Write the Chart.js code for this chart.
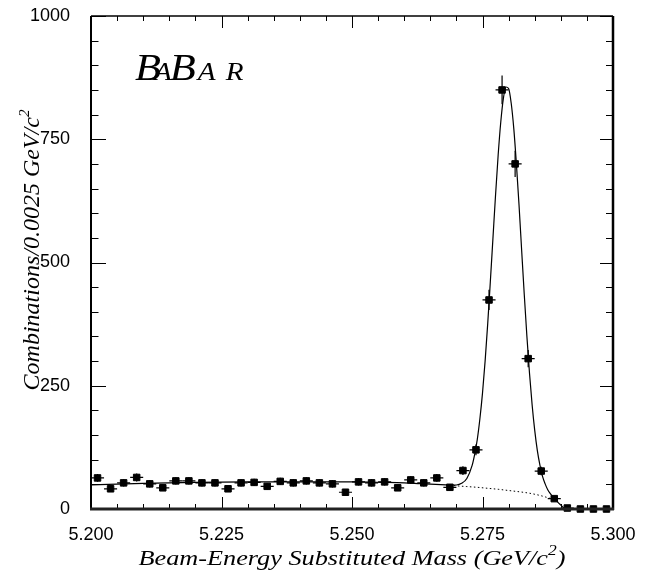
<!DOCTYPE html>
<html>
<head>
<meta charset="utf-8">
<script src="https://cdn.jsdelivr.net/npm/chart.js@4"></script>
<style>
  html, body { margin: 0; padding: 0; background: #fff; }
  #wrap { width: 648px; height: 579px; }
</style>
</head>
<body>
<div id="wrap"><canvas id="mesChart" width="648" height="579"></canvas></div>
<script>
// Beam-energy substituted mass, 0.0025 GeV/c^2 bins
var binCenters = [
  5.20125, 5.20375, 5.20625, 5.20875, 5.21125, 5.21375, 5.21625, 5.21875, 5.22125, 5.22375,
  5.22625, 5.22875, 5.23125, 5.23375, 5.23625, 5.23875, 5.24125, 5.24375, 5.24625, 5.24875,
  5.25125, 5.25375, 5.25625, 5.25875, 5.26125, 5.26375, 5.26625, 5.26875, 5.27125, 5.27375,
  5.27625, 5.27875, 5.28125, 5.28375, 5.28625, 5.28875, 5.29125, 5.29375, 5.29625, 5.29875
];
var binCounts = [
  63, 41, 53, 64, 51, 43, 57, 57, 53, 53,
  41, 53, 54, 46, 56, 53, 57, 53, 51, 34,
  55, 53, 55, 43, 59, 53, 63, 44, 78, 120,
  424, 850, 700, 305, 77, 21, 2, 0, 0, 0
];
var binHalfWidth = 0.00125;

// fitted curve (signal + background)
var fitMass = [
  5.200, 5.210, 5.220, 5.230, 5.240, 5.250, 5.256, 5.260, 5.263, 5.266,
  5.268, 5.269, 5.270, 5.271, 5.272, 5.273, 5.2735, 5.274, 5.2745, 5.275,
  5.2755, 5.276, 5.2765, 5.277, 5.2775, 5.278, 5.2785, 5.279, 5.2795, 5.280,
  5.2805, 5.281, 5.2815, 5.282, 5.2825, 5.283, 5.2835, 5.284, 5.2845, 5.285,
  5.2855, 5.286, 5.2865, 5.287, 5.2875, 5.288, 5.2885, 5.289, 5.2895, 5.290,
  5.2905, 5.291, 5.300
];
var fitValues = [
  49, 52, 54, 55, 55, 55, 54, 53, 51.5, 50,
  49, 48.5, 48.7, 52, 62, 88, 111, 141, 183, 235,
  300, 376, 461, 549, 637, 718, 785, 833, 856, 853,
  823, 771, 699, 616, 525, 435, 351, 276, 212, 160,
  119, 89, 66, 51, 39, 31, 24, 19, 13, 8,
  3, 0, 0
];

// background component (dotted)
var bkgMass = [5.268, 5.270, 5.272, 5.274, 5.276, 5.278, 5.280, 5.282, 5.284, 5.286, 5.2875, 5.289];
var bkgValues = [49, 47, 45.5, 44, 42, 40, 37.5, 35, 32, 27.5, 23, 18];

var xTicks = [5.200, 5.225, 5.250, 5.275, 5.300];
var yTicks = [0, 250, 500, 750, 1000];

function toXY(xs, ys) {
    return xs.map(function (v, i) { return { x: v, y: ys[i] }; });
}

// text stretched horizontally, like the original print
function wideText(ctx, str, x, y, font, sx) {
    ctx.save();
    ctx.font = font;
    ctx.translate(x, y);
    ctx.scale(sx, 1);
    ctx.fillText(str, 0, 0);
    ctx.restore();
    return ctx.measureText(str).width * sx;
}

// error bars: half bin width horizontally, sqrt(N) vertically
var errorBars = {
    id: 'errorBars',
    afterDatasetsDraw: function (chart) {
        var ctx = chart.ctx, x = chart.scales.x, y = chart.scales.y;
        ctx.save();
        ctx.strokeStyle = '#000';
        ctx.lineWidth = 1.2;
        binCenters.forEach(function (m, i) {
            var n = binCounts[i];
            var px = x.getPixelForValue(m);
            var py = y.getPixelForValue(n);
            var x0 = x.getPixelForValue(m - binHalfWidth);
            var x1 = x.getPixelForValue(m + binHalfWidth);
            var e = Math.sqrt(n);
            ctx.beginPath();
            ctx.moveTo(x0, py); ctx.lineTo(x1, py);
            ctx.moveTo(px, y.getPixelForValue(n - e)); ctx.lineTo(px, y.getPixelForValue(n + e));
            ctx.stroke();
        });
        ctx.restore();
    }
};

// frame, inward ticks, axis titles and the BaBar logo
var frameDecor = {
    id: 'frameDecor',
    afterDraw: function (chart) {
        var ctx = chart.ctx, a = chart.chartArea, x = chart.scales.x, y = chart.scales.y;
        ctx.save();
        ctx.strokeStyle = '#000';
        ctx.lineWidth = 1;
        var i, p, major;
        for (i = 0; i <= 20; i++) {
            p = Math.round(x.getPixelForValue(5.2 + i * 0.005)) + 0.5;
            major = i % 5 === 0;
            ctx.beginPath();
            ctx.moveTo(p, a.bottom); ctx.lineTo(p, a.bottom - (major ? 12 : 5));
            ctx.moveTo(p, a.top); ctx.lineTo(p, a.top + (major ? 12 : 5));
            ctx.stroke();
        }
        for (i = 0; i <= 20; i++) {
            p = Math.round(y.getPixelForValue(i * 50)) + 0.5;
            major = i % 5 === 0;
            ctx.beginPath();
            ctx.moveTo(a.left, p); ctx.lineTo(a.left + (major ? 15 : 7.5), p);
            ctx.moveTo(a.right, p); ctx.lineTo(a.right - (major ? 13 : 7), p);
            ctx.stroke();
        }

        // frame
        ctx.lineWidth = 1.5;
        ctx.beginPath();
        ctx.moveTo(a.left, a.top); ctx.lineTo(a.right, a.top);
        ctx.stroke();
        ctx.lineWidth = 2;
        ctx.beginPath();
        ctx.moveTo(a.left, a.top); ctx.lineTo(a.left, a.bottom);
        ctx.stroke();
        ctx.lineWidth = 2.5;
        ctx.beginPath();
        ctx.moveTo(a.right, a.top); ctx.lineTo(a.right, a.bottom + 1);
        ctx.stroke();
        ctx.lineWidth = 3;
        ctx.strokeStyle = '#222';
        ctx.beginPath();
        ctx.moveTo(a.left - 1, a.bottom); ctx.lineTo(a.right + 1, a.bottom);
        ctx.stroke();

        ctx.fillStyle = '#000';
        ctx.textAlign = 'left';
        ctx.textBaseline = 'alphabetic';

        // x title with superscript
        var big = 'italic 21px "Liberation Serif"', small = 'italic 14px "Liberation Serif"';
        var sxT = 1.25;
        var t1 = 'Beam-Energy Substituted Mass (GeV/c', t3 = ')';
        ctx.font = big;
        var w1 = ctx.measureText(t1).width * sxT, w3 = ctx.measureText(t3).width * sxT;
        ctx.font = small;
        var w2 = ctx.measureText('2').width * sxT;
        var sx = (a.left + a.right) / 2 - (w1 + w2 + w3) / 2, by = 565;
        wideText(ctx, t1, sx, by, big, sxT);
        wideText(ctx, '2', sx + w1, by - 10, small, sxT);
        wideText(ctx, t3, sx + w1 + w2, by, big, sxT);

        // y title, rotated
        var yBig = 'italic 24px "Liberation Serif"', ySmall = 'italic 15px "Liberation Serif"';
        var y1 = 'Combinations/0.0025 GeV/c';
        ctx.save();
        ctx.translate(39, 250);
        ctx.rotate(-Math.PI / 2);
        ctx.font = yBig;
        var wy1 = ctx.measureText(y1).width;
        ctx.font = ySmall;
        var wy2 = ctx.measureText('2').width;
        var sy = -(wy1 + wy2) / 2;
        ctx.font = yBig; ctx.fillText(y1, sy, 0);
        ctx.font = ySmall; ctx.fillText('2', sy + wy1, -10);
        ctx.restore();

        // BaBar logo
        var capF = 'italic 38px "Liberation Serif"', scF = 'italic 26px "Liberation Serif"';
        var lx = 135, ly = 80, ls = 1.12;
        wideText(ctx, 'B', lx, ly, capF, ls);
        wideText(ctx, 'A', lx + 17 * ls, ly, scF, ls);
        wideText(ctx, 'B', lx + 31 * ls, ly, capF, ls);
        wideText(ctx, 'A', lx + 56 * ls, ly, scF, ls);
        wideText(ctx, 'R', lx + 81 * ls, ly, scF, ls);

        ctx.restore();
    }
};

var tickFont = { family: '"Liberation Sans", Arial, sans-serif', size: 18 };

new Chart(document.getElementById('mesChart'), {
    type: 'scatter',
    data: {
        datasets: [
            {
                label: 'Data',
                data: toXY(binCenters, binCounts),
                showLine: false,
                pointStyle: 'rect',
                pointRadius: 4.6,
                pointBorderWidth: 1,
                backgroundColor: '#000',
                borderColor: '#000',
                clip: false,
                order: 0
            },
            {
                label: 'Fit',
                data: toXY(fitMass, fitValues),
                showLine: true,
                pointRadius: 0,
                borderColor: '#000',
                borderWidth: 1.2,
                cubicInterpolationMode: 'monotone',
                fill: false,
                order: 1
            },
            {
                label: 'Background',
                data: toXY(bkgMass, bkgValues),
                showLine: true,
                pointRadius: 0,
                borderColor: '#000',
                borderWidth: 1,
                borderDash: [1.5, 2.5],
                cubicInterpolationMode: 'monotone',
                fill: false,
                order: 2
            }
        ]
    },
    options: {
        responsive: false,
        animation: false,
        layout: { padding: { top: 16, right: 35, left: 0, bottom: 0 } },
        plugins: {
            legend: { display: false },
            tooltip: { enabled: false }
        },
        scales: {
            x: {
                type: 'linear',
                min: 5.2,
                max: 5.3,
                grid: { display: false, drawTicks: false },
                border: { display: false },
                afterBuildTicks: function (s) { s.ticks = xTicks.map(function (v) { return { value: v }; }); },
                afterFit: function (s) { s.height = 70; s.paddingLeft = 0; s.paddingRight = 0; },
                ticks: {
                    padding: 15,
                    color: '#000',
                    font: tickFont,
                    maxRotation: 0,
                    autoSkip: false,
                    callback: function (v) { return Number(v).toFixed(3); }
                }
            },
            y: {
                min: 0,
                max: 1000,
                grid: { display: false, drawTicks: false },
                border: { display: false },
                afterBuildTicks: function (s) { s.ticks = yTicks.map(function (v) { return { value: v }; }); },
                afterFit: function (s) { s.width = 91; s.paddingTop = 0; s.paddingBottom = 0; },
                ticks: {
                    padding: 21,
                    color: '#000',
                    font: tickFont,
                    callback: function (v) { return String(v); }
                }
            }
        }
    },
    plugins: [errorBars, frameDecor]
});
</script>
</body>
</html>
